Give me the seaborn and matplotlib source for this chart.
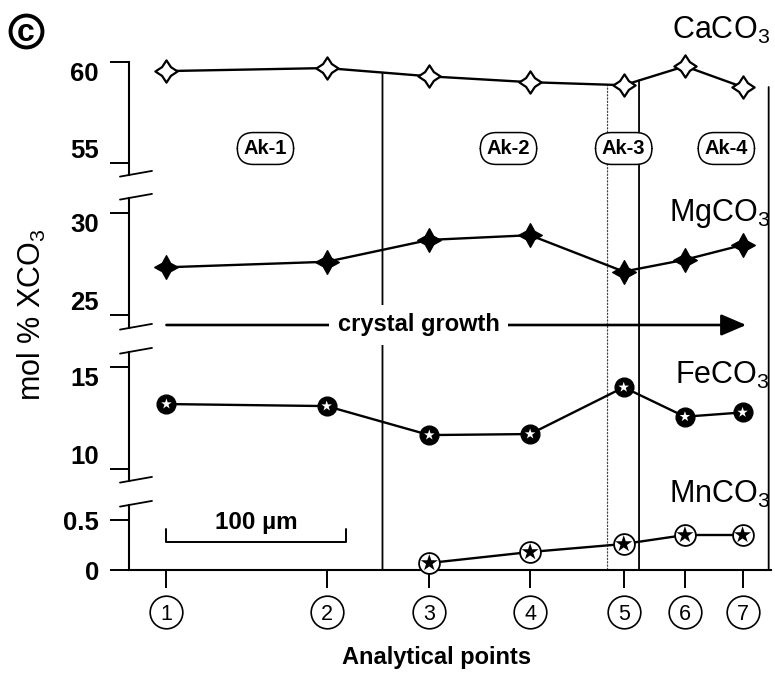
import numpy as np
import pandas as pd
import matplotlib
matplotlib.use("Agg")
import matplotlib.pyplot as plt
from matplotlib.path import Path
from matplotlib.lines import Line2D
from matplotlib.patches import ConnectionPatch
from matplotlib.transforms import IdentityTransform
import seaborn as sns

# ---------------------------------------------------------------- data
point_labels = ["1", "2", "3", "4", "5", "6", "7"]
distance_um = [0, 89, 146, 202, 254, 288, 320]      # position along traverse

caco3 = [59.55, 59.70, 59.29, 59.00, 58.85, 59.79, 58.76]
mgco3 = [27.33, 27.60, 28.67, 28.90, 27.12, 27.70, 28.42]
feco3 = [13.20, 13.10, 11.68, 11.73, 14.02, 12.58, 12.79]
mnco3 = [np.nan, np.nan, 0.07, 0.18, 0.26, 0.35, 0.35]

zone_bounds_um = [120, 245, 262.5, 334.5]
zone_line_styles = ["-", ":", "-", "-"]
zone_labels = ["Ak-1", "Ak-2", "Ak-3", "Ak-4"]
zone_label_um = [55, 190, 254, 311]

scale_bar_um = 100

df = pd.DataFrame({"distance": distance_um, "CaCO3": caco3, "MgCO3": mgco3,
                   "FeCO3": feco3, "MnCO3": mnco3})

# ---------------------------------------------------------------- style
sns.set_style("ticks")
plt.rcParams.update({
    "font.family": ["Liberation Sans", "DejaVu Sans"],
    "mathtext.fontset": "custom",
    "mathtext.rm": "Liberation Sans",
    "mathtext.it": "Liberation Sans:italic",
    "mathtext.bf": "Liberation Sans:bold",
    "axes.linewidth": 1.5,
    "axes.edgecolor": "black",
    "text.color": "black",
    "axes.labelcolor": "black",
    "xtick.color": "black",
    "ytick.color": "black",
})

W, H = 775, 676
X0, X1 = 129, 771
XLIM = (-20.8, 335.8)

fig = plt.figure(figsize=(W / 100, H / 100), dpi=100)
fig.patch.set_facecolor("white")


def panel_axes(top_px, bottom_px, ylim, ticks, labels, bottom_axis=False):
    ax = fig.add_axes([X0 / W, 1 - bottom_px / H, (X1 - X0) / W,
                       (bottom_px - top_px) / H])
    ax.set_facecolor("none")
    ax.set_xlim(XLIM)
    ax.set_ylim(ylim)
    for s in ["top", "right"]:
        ax.spines[s].set_visible(False)
    if not bottom_axis:
        ax.spines["bottom"].set_visible(False)
        ax.set_xticks([])
    ax.set_yticks(ticks, labels=labels)
    ax.tick_params(axis="y", length=13.7, width=1.4, pad=8, labelsize=18.5,
                   direction="out", colors="black")
    for lbl in ax.get_yticklabels():
        lbl.set_fontweight("bold")
    return ax


def px_to_axfrac(ax, y_px):
    b = ax.get_position()
    return ((1 - y_px / H) - b.y0) / b.height


ax_ca = panel_axes(62, 175, (54.4, 60.0), [55, 60], ["55", "60"])
ax_mg = panel_axes(198, 328, (24.36, 30.72), [25, 30], ["25", "30"])
ax_fe = panel_axes(352, 481, (9.43, 15.75), [10, 15], ["10", "15"])
ax_mn = panel_axes(505, 570, (0, 0.65), [0, 0.5], ["0", "0.5"], bottom_axis=True)

# upper/lower tick labels sit inside the span of each broken segment
for ax in (ax_ca, ax_mg, ax_fe):
    lbls = ax.get_yticklabels()
    lbls[0].set_va("bottom")
    lbls[1].set_va("top")

# break marks at the ends of each spine segment
def break_mark(ax, where):
    x, y = ax.transAxes.transform((0, 1 if where == "top" else 0))
    fig.add_artist(Line2D([x - 9, x + 23], [y - 1.6, y + 4.1],
                          transform=IdentityTransform(), color="black", lw=1.3))

break_mark(ax_ca, "bottom")
for ax in (ax_mg, ax_fe):
    break_mark(ax, "top")
    break_mark(ax, "bottom")
break_mark(ax_mn, "top")

# ---------------------------------------------------------------- markers
concave_open = Path.unit_regular_star(4, innerCircle=0.56)
concave_solid = Path.unit_regular_star(4, innerCircle=0.50)

line_kw = dict(color="black", linewidth=1.7, sort=False, estimator=None,
               clip_on=False, zorder=3, legend=False)

sns.lineplot(data=df, x="distance", y="CaCO3", ax=ax_ca, marker=concave_open,
             markersize=16, markerfacecolor="white", markeredgecolor="black",
             markeredgewidth=1.6, **line_kw)
sns.lineplot(data=df, x="distance", y="MgCO3", ax=ax_mg, marker=concave_solid,
             markersize=17, markerfacecolor="black", markeredgecolor="black",
             markeredgewidth=1.0, **line_kw)

sns.lineplot(data=df, x="distance", y="FeCO3", ax=ax_fe, marker="o",
             markersize=13.5, markerfacecolor="black", markeredgecolor="black",
             markeredgewidth=1.0, **line_kw)
sns.scatterplot(data=df, x="distance", y="FeCO3", ax=ax_fe, marker="*", s=64,
                color="white", edgecolor="none", linewidth=0, zorder=5,
                clip_on=False, legend=False)

mn = df[["distance", "MnCO3"]].dropna()
sns.lineplot(data=mn, x="distance", y="MnCO3", ax=ax_mn, marker="o",
             markersize=15, markerfacecolor="white", markeredgecolor="black",
             markeredgewidth=1.3, **line_kw)
sns.scatterplot(data=mn, x="distance", y="MnCO3", ax=ax_mn, marker="*", s=165,
                color="black", edgecolor="none", linewidth=0, zorder=5,
                clip_on=False, legend=False)

for ax in (ax_ca, ax_mg, ax_fe, ax_mn):
    ax.set_xlabel("")
    ax.set_ylabel("")
    ax.set_xlim(XLIM)

# ---------------------------------------------------------------- zone boundaries
for xb, ls in zip(zone_bounds_um, zone_line_styles):
    y_top = float(np.interp(xb, distance_um, caco3))
    con = ConnectionPatch(xyA=(xb, y_top), coordsA=ax_ca.transData,
                          xyB=(xb, 0), coordsB=ax_mn.transData,
                          color="black" if ls == "-" else "#444444",
                          lw=1.3 if ls == "-" else 0.9, linestyle=ls, zorder=1)
    ax_ca.add_artist(con)
    con.set_clip_on(False)

ya = px_to_axfrac(ax_ca, 148.5)
for lab, xl in zip(zone_labels, zone_label_um):
    ax_ca.text(xl, ya, lab, transform=ax_ca.get_xaxis_transform(), ha="center",
               va="center", fontsize=14.5, fontweight="bold", zorder=8,
               bbox=dict(boxstyle="round,pad=0.32,rounding_size=0.8",
                         fc="white", ec="black", lw=1.1))

# ---------------------------------------------------------------- growth arrow
yg = px_to_axfrac(ax_mg, 325)
ax_mg.annotate("", xy=(distance_um[-1] + 2, yg), xytext=(distance_um[0], yg),
               xycoords=ax_mg.get_xaxis_transform(),
               textcoords=ax_mg.get_xaxis_transform(),
               arrowprops=dict(arrowstyle="-|>,head_length=0.7,head_width=0.3",
                               color="black", lw=1.9, mutation_scale=22,
                               shrinkA=0, shrinkB=0), annotation_clip=False,
               zorder=4)
ax_mg.text(140, yg, "crystal growth", transform=ax_mg.get_xaxis_transform(),
           ha="center", va="center", fontsize=17, fontweight="bold", zorder=6,
           bbox=dict(boxstyle="square,pad=0.35", fc="white", ec="none"))

# ---------------------------------------------------------------- scale bar
x_sb0 = distance_um[0]
ax_mn.plot([x_sb0, x_sb0, x_sb0 + scale_bar_um, x_sb0 + scale_bar_um],
           [0.41, 0.283, 0.283, 0.41], color="black", lw=1.4, clip_on=False)
ax_mn.text(x_sb0 + scale_bar_um / 2, 0.48, "100 µm", ha="center", va="center",
           fontsize=17.5, fontweight="bold")

# ---------------------------------------------------------------- x axis
ax_mn.set_xticks(distance_um, labels=[""] * len(distance_um))
ax_mn.tick_params(axis="x", length=13, width=1.4, direction="out")
yc = px_to_axfrac(ax_mn, 612)
yb = px_to_axfrac(ax_mn, 619.5)
ax_mn.plot(distance_um, [yc] * len(distance_um), ls="none", marker="o",
           ms=23.5, mfc="white", mec="black", mew=1.2, clip_on=False,
           transform=ax_mn.get_xaxis_transform())
for xp, lab in zip(distance_um, point_labels):
    ax_mn.text(xp, yb, lab, transform=ax_mn.get_xaxis_transform(),
               ha="center", va="baseline", fontsize=15.5)

# ---------------------------------------------------------------- labels
ov = fig.add_axes([0, 0, 1, 1])
ov.set_xlim(0, W)
ov.set_ylim(H, 0)
ov.axis("off")
ov.plot([25.5], [31], marker="o", ms=23, mfc="none", mec="black", mew=2.8)
ov.text(25.5, 41, "c", ha="center", va="baseline", fontsize=23, fontweight="bold")

for txt, yb_px in [("CaCO$_3$", 39), ("MgCO$_3$", 221), ("FeCO$_3$", 384),
                   ("MnCO$_3$", 503)]:
    ov.text(770, yb_px, txt, ha="right", va="baseline", fontsize=22)

ov.text(32, 315, "mol % XCO$_3$", rotation=90, ha="center", va="center",
        fontsize=22)
ov.text(437, 664, "Analytical points", ha="center", va="baseline",
        fontsize=17, fontweight="bold")

fig.savefig("out.png", dpi=100, facecolor="white")
